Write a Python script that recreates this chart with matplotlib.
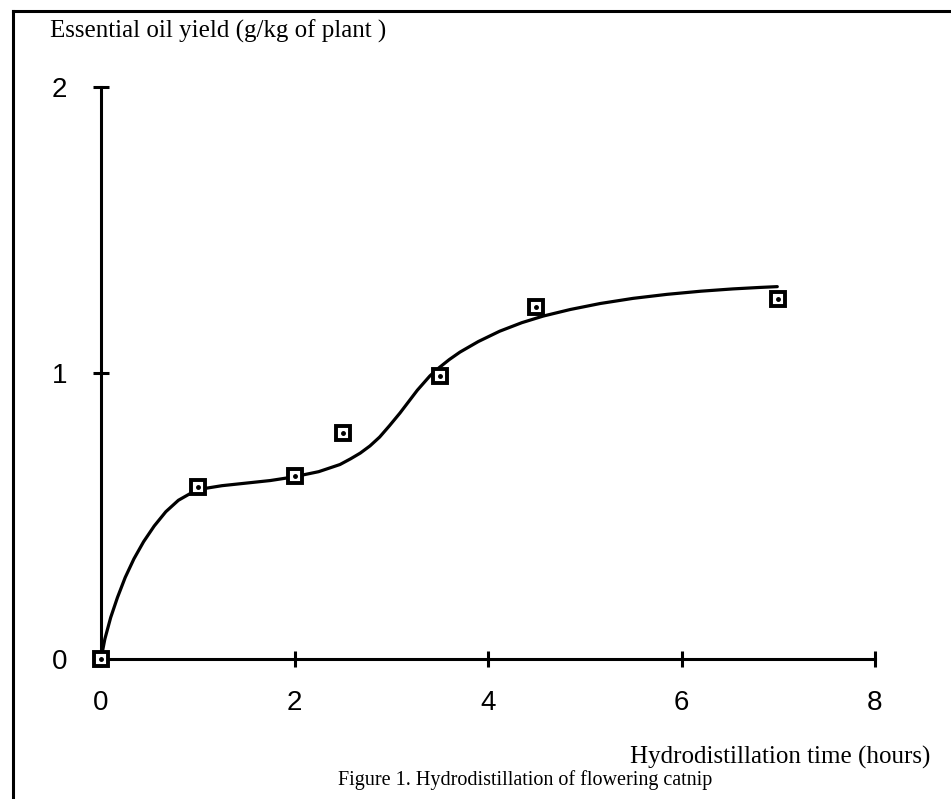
import matplotlib.pyplot as plt
from matplotlib.lines import Line2D

# data
hours = [0, 1, 2, 2.5, 3.5, 4.5, 7]
oil_yield = [0, 0.60, 0.64, 0.79, 0.99, 1.23, 1.26]

# fitted curve
curve_x = [0, 0.04, 0.10, 0.17, 0.25, 0.34, 0.44, 0.55, 0.67, 0.80, 0.93, 1.03,
           1.25, 1.5, 1.75, 1.98, 2.25, 2.47, 2.58, 2.68, 2.78, 2.88, 2.98, 3.09,
           3.18, 3.27, 3.40, 3.5, 3.6, 3.71, 3.9, 4.12, 4.35, 4.57, 4.85, 5.16,
           5.5, 5.85, 6.2, 6.53, 6.8, 6.99]
curve_y = [0, 0.07, 0.145, 0.215, 0.285, 0.35, 0.41, 0.465, 0.515, 0.555, 0.58, 0.594,
           0.606, 0.615, 0.624, 0.636, 0.655, 0.68, 0.70, 0.72, 0.745, 0.776, 0.815, 0.86,
           0.90, 0.94, 0.99, 1.02, 1.047, 1.073, 1.11, 1.146, 1.176, 1.199, 1.222, 1.243,
           1.261, 1.275, 1.286, 1.294, 1.299, 1.302]

x_ticks = [0, 2, 4, 6, 8]
y_ticks = [0, 1, 2]

W, H = 951, 799
fig = plt.figure(figsize=(W / 100, H / 100), dpi=100)
ax = fig.add_axes([101 / W, 1 - 659 / H, 774 / W, 572 / H])

# curve and points
ax.plot(curve_x, curve_y, color='black', linewidth=2.3,
        solid_capstyle='round', solid_joinstyle='round', zorder=2)
ax.plot(hours, oil_yield, linestyle='none', marker='s', markersize=10.5,
        markerfacecolor='white', markeredgecolor='black', markeredgewidth=2.8,
        clip_on=False, zorder=3)
ax.plot(hours, oil_yield, linestyle='none', marker='o', markersize=2.5,
        color='black', clip_on=False, zorder=4)

ax.set_xlim(0, 8)
ax.set_ylim(0, 2)
ax.set_xticks(x_ticks)
ax.set_yticks(y_ticks)
ax.set_xticklabels([str(t) for t in x_ticks])
ax.set_yticklabels([str(t) for t in y_ticks])

for side in ['top', 'right']:
    ax.spines[side].set_visible(False)
for side in ['left', 'bottom']:
    ax.spines[side].set_linewidth(2.2)

ax.tick_params(axis='both', direction='inout', length=11, width=2.2,
               labelsize=20, color='black')
ax.tick_params(axis='x', pad=17)
ax.tick_params(axis='y', pad=19)
for lab in ax.get_xticklabels() + ax.get_yticklabels():
    lab.set_fontfamily('Liberation Sans')

# texts
serif = 'Liberation Serif'
fig.text(50 / W, 1 - 31 / H, 'Essential oil yield (g/kg of plant )',
         family=serif, fontsize=18, ha='left', va='center')
fig.text(930 / W, 1 - 757 / H, 'Hydrodistillation time (hours)',
         family=serif, fontsize=18, ha='right', va='center')
fig.text(525 / W, 1 - 780 / H, 'Figure 1. Hydrodistillation of flowering catnip',
         family=serif, fontsize=14.5, ha='center', va='center')

# frame lines (top and left)
fig.add_artist(Line2D([13 / W, 1], [1 - 11 / H, 1 - 11 / H], color='black', linewidth=2.2))
fig.add_artist(Line2D([13 / W, 13 / W], [0, 1 - 11 / H], color='black', linewidth=2.2))

fig.savefig('out.png', dpi=100, facecolor='white')
plt.close(fig)
